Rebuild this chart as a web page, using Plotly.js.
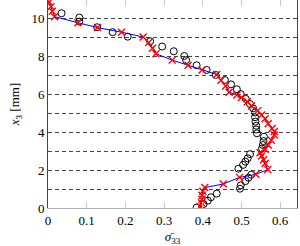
<!DOCTYPE html>
<html>
<head>
<meta charset="utf-8">
<script src="https://cdn.plot.ly/plotly-3.0.1.min.js"></script>
<style>html,body{margin:0;padding:0;background:#fff;}#chart{width:300px;height:246px;}</style>
</head>
<body>
<div id="chart"></div>
<script>
// Black open circles: measured values
const circleSigma = [0.035, 0.081, 0.081, 0.127, 0.167, 0.206, 0.264, 0.295, 0.325, 0.352, 0.357, 0.384, 0.410, 0.433, 0.457, 0.473, 0.488, 0.498, 0.511, 0.522, 0.530, 0.535, 0.535, 0.536, 0.538, 0.538, 0.540, 0.558, 0.557, 0.555, 0.553, 0.522, 0.516, 0.510, 0.504, 0.492, 0.525, 0.518, 0.510, 0.498, 0.496, 0.436, 0.421, 0.413, 0.402, 0.384];
const circleX3 = [10.30, 10.07, 9.86, 9.56, 9.30, 9.06, 8.82, 8.54, 8.29, 8.04, 7.82, 7.55, 7.30, 7.04, 6.77, 6.54, 6.28, 6.02, 5.77, 5.50, 5.27, 5.05, 4.80, 4.57, 4.35, 4.15, 3.95, 3.77, 3.54, 3.33, 3.15, 2.85, 2.63, 2.45, 2.28, 2.08, 1.76, 1.60, 1.42, 1.20, 1.02, 0.76, 0.57, 0.39, 0.21, 0.02];
// Blue line with red crosses: model values
const modelSigma = [0.003, 0.008, 0.011, 0.017, 0.077, 0.128, 0.190, 0.246, 0.260, 0.270, 0.279, 0.321, 0.362, 0.398, 0.436, 0.447, 0.459, 0.468, 0.488, 0.500, 0.515, 0.526, 0.542, 0.552, 0.561, 0.569, 0.579, 0.585, 0.585, 0.577, 0.569, 0.561, 0.548, 0.552, 0.557, 0.561, 0.568, 0.537, 0.495, 0.453, 0.405, 0.400, 0.398, 0.398, 0.397, 0.393];
const modelX3 = [10.90, 10.65, 10.40, 10.12, 9.80, 9.54, 9.30, 9.04, 8.75, 8.45, 8.16, 7.82, 7.55, 7.30, 7.06, 6.75, 6.45, 6.12, 5.98, 5.84, 5.62, 5.40, 5.15, 4.92, 4.72, 4.46, 4.20, 4.04, 3.86, 3.58, 3.33, 3.10, 2.92, 2.75, 2.55, 2.35, 2.03, 1.78, 1.62, 1.27, 1.08, 0.88, 0.68, 0.46, 0.26, 0.08];
const xTickVals = [0, 0.1, 0.2, 0.3, 0.4, 0.5, 0.6];
const xTickText = ['0', '0.1', '0.2', '0.3', '0.4', '0.5', '0.6'];
const yTickVals = [0, 2, 4, 6, 8, 10];
const yTickText = ['0', '2', '4', '6', '8', '10'];

const font = 'Liberation Serif, DejaVu Serif, serif';
const traces = [
  {x: circleSigma, y: circleX3, mode: 'markers', type: 'scatter',
   marker: {symbol: 'circle-open', size: 7, color: '#000', line: {width: 1, color: '#000'}}},
  {x: modelSigma, y: modelX3, mode: 'lines+markers', type: 'scatter',
   line: {color: '#0000ff', width: 1},
   marker: {symbol: 'x-thin-open', size: 7, color: '#ff0000', line: {width: 1.4, color: '#ff0000'}}}
];
const layout = {
  width: 300, height: 246,
  margin: {l: 48, r: 3, t: 0, b: 38},
  showlegend: false,
  paper_bgcolor: '#fff', plot_bgcolor: '#fff',
  font: {family: font, size: 13, color: '#000'},
  xaxis: {range: [0, 0.6434], tickvals: xTickVals, ticktext: xTickText,
    ticks: 'inside', ticklen: 6, tickcolor: '#c8c8c8', tickwidth: 1,
    showline: true, linecolor: '#b0b0b0', linewidth: 1, mirror: 'ticks',
    showgrid: false, zeroline: false, tickfont: {family: font, size: 13},
    title: {text: '<i>σ̄</i><sub>33</sub>', font: {family: font, size: 13}, standoff: 8}},
  yaxis: {range: [0, 11], tickvals: yTickVals, ticktext: yTickText,
    ticks: '', showline: true, linecolor: '#444', linewidth: 1, mirror: true,
    showgrid: true, gridcolor: '#444', griddash: '4px,3px', gridwidth: 1, zeroline: false,
    minor: {tickvals: [1, 3, 5, 7, 9], showgrid: true, gridcolor: '#444', griddash: '4px,3px', gridwidth: 1, ticks: ''},
    tickfont: {family: font, size: 13},
    title: {text: '<i>x</i><sub>3</sub> [mm]', font: {family: font, size: 13}, standoff: 8}}
};
Plotly.newPlot('chart', traces, layout, {staticPlot: true, displayModeBar: false});
</script>
</body>
</html>
